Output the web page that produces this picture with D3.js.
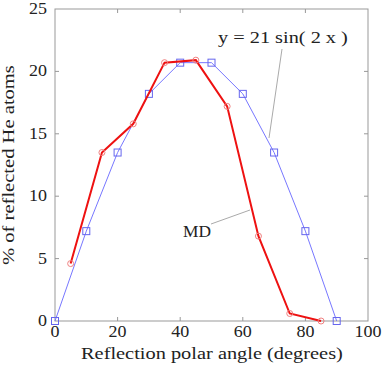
<!DOCTYPE html>
<html>
<head>
<meta charset="utf-8">
<script src="https://cdn.jsdelivr.net/npm/d3@7"></script>
<style>
  html, body { margin: 0; padding: 0; background: #fff; }
</style>
</head>
<body>
<svg id="chart" width="382" height="365"></svg>
<script>
const sinX = [0, 10, 20, 30, 40, 50, 60, 70, 80, 90];
const sinY = [0, 7.2, 13.5, 18.2, 20.7, 20.7, 18.2, 13.5, 7.2, 0];
const mdX = [5, 15, 25, 35, 45, 55, 65, 75, 85];
const mdY = [4.6, 13.5, 15.8, 20.7, 20.9, 17.2, 6.8, 0.6, 0.0];
const xTicks = [0, 20, 40, 60, 80, 100];
const yTicks = [0, 5, 10, 15, 20, 25];

const svg = d3.select("#chart");
const margin = { left: 55, right: 14, top: 9, bottom: 44 };
const width = 382, height = 365;
const FONT = '"Liberation Serif"';
const frameColor = "#999";

const x = d3.scaleLinear().domain([0, 100]).range([margin.left, width - margin.right]);
const y = d3.scaleLinear().domain([0, 25]).range([height - margin.bottom, margin.top]);

// text in the reference uses a wide serif face: draw Liberation Serif
// and stretch it sideways to the measured width
function label(px, py, len, txt, anchor, rotate) {
  const t = svg.append("text")
    .attr("font-size", 16).style("font-family", FONT).attr("fill", "#222")
    .attr("text-anchor", anchor || "start")
    .text(txt);
  const sx = len / t.node().getComputedTextLength();
  t.attr("transform", `translate(${px},${py})${rotate ? " rotate(-90)" : ""} scale(${sx},1)`);
  return t;
}

// frame with inward ticks on all four sides
svg.append("rect")
  .attr("x", x(0)).attr("y", y(25))
  .attr("width", x(100) - x(0)).attr("height", y(0) - y(25))
  .attr("fill", "none").attr("stroke", frameColor);

const tickLen = 4;
svg.append("g").selectAll("line").data(xTicks.slice(1, -1)).join("line")
  .attr("x1", (d) => x(d)).attr("x2", (d) => x(d))
  .attr("y1", y(0)).attr("y2", y(0) - tickLen).attr("stroke", frameColor);
svg.append("g").selectAll("line").data(xTicks.slice(1, -1)).join("line")
  .attr("x1", (d) => x(d)).attr("x2", (d) => x(d))
  .attr("y1", y(25)).attr("y2", y(25) + tickLen).attr("stroke", frameColor);
svg.append("g").selectAll("line").data(yTicks.slice(1, -1)).join("line")
  .attr("y1", (d) => y(d)).attr("y2", (d) => y(d))
  .attr("x1", x(0)).attr("x2", x(0) + tickLen).attr("stroke", frameColor);
svg.append("g").selectAll("line").data(yTicks.slice(1, -1)).join("line")
  .attr("y1", (d) => y(d)).attr("y2", (d) => y(d))
  .attr("x1", x(100)).attr("x2", x(100) - tickLen).attr("stroke", frameColor);

xTicks.forEach((d) => label(x(d), y(0) + 16, String(d).length * 9, String(d), "middle"));
yTicks.forEach((d) => label(x(0) - 8, y(d) + 5, String(d).length * 9, String(d), "end"));

// sin curve
const line = d3.line().x((d) => x(d[0])).y((d) => y(d[1]));
const sinPts = sinX.map((v, i) => [v, sinY[i]]);
svg.append("path").datum(sinPts)
  .attr("d", line).attr("fill", "none").attr("stroke", "#7777ff").attr("stroke-width", 1);
svg.append("g").selectAll("rect").data(sinPts).join("rect")
  .attr("x", (d) => x(d[0]) - 3.5).attr("y", (d) => y(d[1]) - 3.5)
  .attr("width", 7).attr("height", 7)
  .attr("fill", "none").attr("stroke", "#6666ee").attr("stroke-width", 1);

// MD curve
const mdPts = mdX.map((v, i) => [v, mdY[i]]);
svg.append("path").datum(mdPts)
  .attr("d", line).attr("fill", "none").attr("stroke", "#ee1111").attr("stroke-width", 2);
svg.append("g").selectAll("circle").data(mdPts).join("circle")
  .attr("cx", (d) => x(d[0])).attr("cy", (d) => y(d[1])).attr("r", 3)
  .attr("fill", "none").attr("stroke", "#f08080").attr("stroke-width", 1);

// annotations
svg.append("line").attr("x1", 282).attr("y1", 49).attr("x2", 269).attr("y2", 138)
  .attr("stroke", "#aaa").attr("stroke-width", 1);
label(218, 43, 130, "y = 21 sin( 2 x )");

svg.append("line").attr("x1", 211).attr("y1", 224).attr("x2", 250).attr("y2", 210)
  .attr("stroke", "#aaa").attr("stroke-width", 1);
label(183, 237, 28, "MD");

// axis titles
label(81, 359, 262, "Reflection polar angle (degrees)");
label(14, 265, 200, "% of reflected He atoms", "start", true);
</script>
</body>
</html>
